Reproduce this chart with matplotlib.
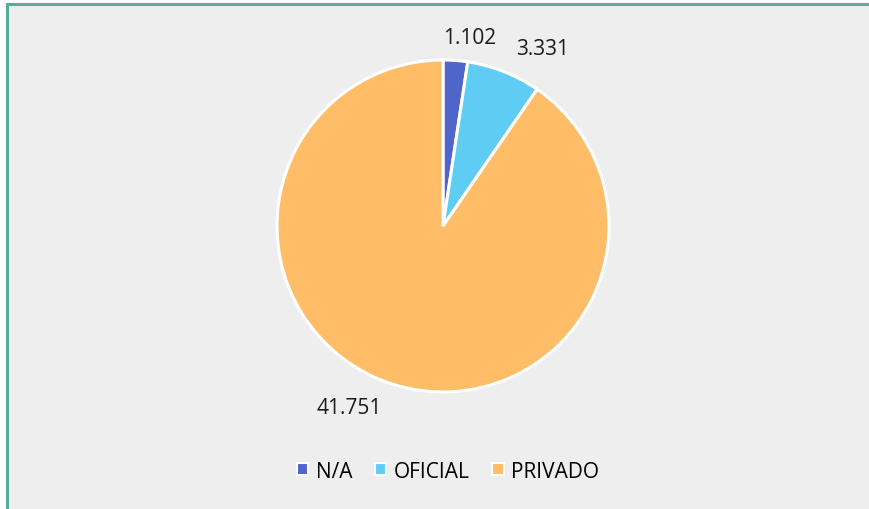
import numpy as np
import matplotlib.pyplot as plt
from matplotlib.patches import Rectangle, Patch

# dados
categorias = ["N/A", "OFICIAL", "PRIVADO"]
valores = [1102, 3331, 41751]
rotulos = ["1.102", "3.331", "41.751"]
cores = ["#4F65C9", "#5FCDF3", "#FFBD68"]

W, H = 869, 510
fig = plt.figure(figsize=(W / 100, H / 100), dpi=100)
fig.patch.set_facecolor("white")

# fundo + borda (cortada à direita/embaixo)
fig.patches.append(Rectangle((7.5 / W, -0.05), 1.1, (H - 4.5) / H + 0.05,
                             transform=fig.transFigure, facecolor="#EEEEEE",
                             edgecolor="#5BAB9B", linewidth=2.2, zorder=-5))

# eixo do gráfico de pizza
cx, cy, r = 443, 227, 166
ax = fig.add_axes([(cx - r) / W, (H - cy - r) / H, 2 * r / W, 2 * r / H])
ax.set_zorder(2)
ax.patch.set_visible(False)

wedges, textos = ax.pie(valores, colors=cores, startangle=90, counterclock=False,
                        radius=1, labels=rotulos, labeldistance=1.19,
                        wedgeprops=dict(edgecolor="white", linewidth=2.2),
                        textprops=dict(fontsize=15, color="#1a1a1a", family="Open Sans"))
ax.set_xlim(-1, 1)
ax.set_ylim(-1, 1)
ax.axis("off")

# ajuste fino da posição dos rótulos (como o Excel posiciona)
ajustes = [(0.07, -0.05), (0.16, -0.04), (-0.21, 0.04)]
for t, (dx, dy) in zip(textos, ajustes):
    x, y = t.get_position()
    t.set_position((x + dx, y + dy))
    t.set_ha("center")
    t.set_va("center")
    t.set_clip_on(False)

# legenda
handles = [Patch(facecolor=c, edgecolor="white", linewidth=1.5) for c in cores]
leg = fig.legend(handles, categorias, loc="center", bbox_to_anchor=(448 / W, 1 - 472 / H),
                 ncol=3, frameon=False, handlelength=0.55, handleheight=0.55,
                 handletextpad=0.35, columnspacing=1.1,
                 prop=dict(family="Open Sans", size=15))
leg.set_zorder(3)

fig.savefig("out.png", dpi=100, facecolor=fig.get_facecolor())
